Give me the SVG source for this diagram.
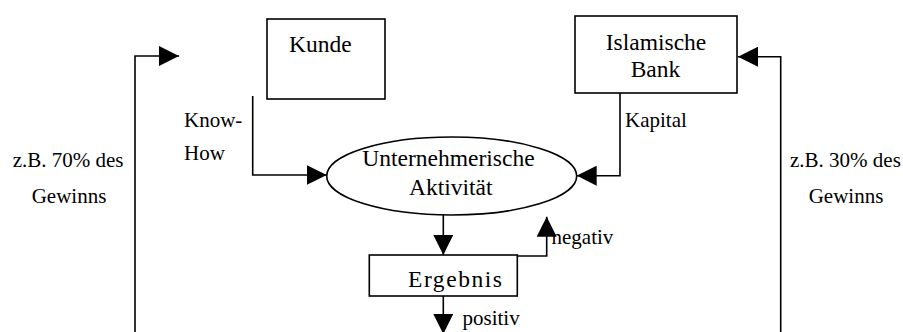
<svg xmlns="http://www.w3.org/2000/svg" width="903" height="332" viewBox="0 0 903 332">
<style>
.box{fill:#fff;stroke:#000;stroke-width:1.6}
.ln{fill:none;stroke:#000;stroke-width:1.6;marker-end:url(#ah)}
.t{font-family:'Liberation Serif','Tinos','Times New Roman','DejaVu Serif',serif;font-size:23.5px;fill:#000}
.s{font-family:'Liberation Serif','Tinos','Times New Roman','DejaVu Serif',serif;font-size:21px;fill:#000}
</style>
<defs>
<marker id="ah" markerWidth="20" markerHeight="20" refX="20" refY="10" orient="auto" markerUnits="userSpaceOnUse">
<path d="M0,0 L20,10 L0,20 z" fill="#000"/>
</marker>
</defs>
<rect width="903" height="332" fill="#fff"/>
<g id="connectors">
<polyline class="ln" points="135,340 135,56 179,56"/>
<polyline class="ln" points="780.7,340 780.7,56.7 738,56.7"/>
<polyline class="ln" points="252.7,96 252.7,175 326.7,175"/>
<polyline class="ln" points="620,93 620,175.7 576.7,175.7"/>
<polyline class="ln" points="443.3,215 443.3,255"/>
<polyline class="ln" points="517,256 546.7,256 546.7,216.7"/>
<polyline class="ln" points="443.3,296 443.3,334"/>
</g>
<g id="kunde">
<rect class="box" x="267" y="19" width="118" height="80"/>
<text class="t" x="289" y="52" font-family="Liberation Serif, serif">Kunde</text>
</g>
<g id="bank">
<rect class="box" x="575" y="16" width="162" height="77"/>
<text class="t" x="656" y="50" text-anchor="middle">Islamische</text>
<text class="t" x="655.5" y="77" text-anchor="middle">Bank</text>
</g>
<g id="aktivitaet">
<ellipse class="box" cx="451.7" cy="176" rx="125" ry="39"/>
<text class="t" x="448.5" y="166" text-anchor="middle">Unternehmerische</text>
<text class="t" x="450.7" y="195" text-anchor="middle">Aktivität</text>
</g>
<g id="ergebnis">
<rect class="box" x="369.3" y="255" width="148" height="41"/>
<text class="t" x="408" y="286.5" textLength="94" lengthAdjust="spacing">Ergebnis</text>
</g>
<g id="labels">
<text class="s" x="184" y="126.5">Know-</text>
<text class="s" x="184" y="160">How</text>
<text class="s" x="625" y="127">Kapital</text>
<text class="s" x="551.5" y="244">negativ</text>
<text class="s" x="462.5" y="325">positiv</text>
<text class="s" x="12.7" y="166.7">z.B. 70% des</text>
<text class="s" x="69" y="203" text-anchor="middle">Gewinns</text>
<text class="s" x="790" y="166.7">z.B. 30% des</text>
<text class="s" x="846" y="203" text-anchor="middle">Gewinns</text>
</g>
</svg>
